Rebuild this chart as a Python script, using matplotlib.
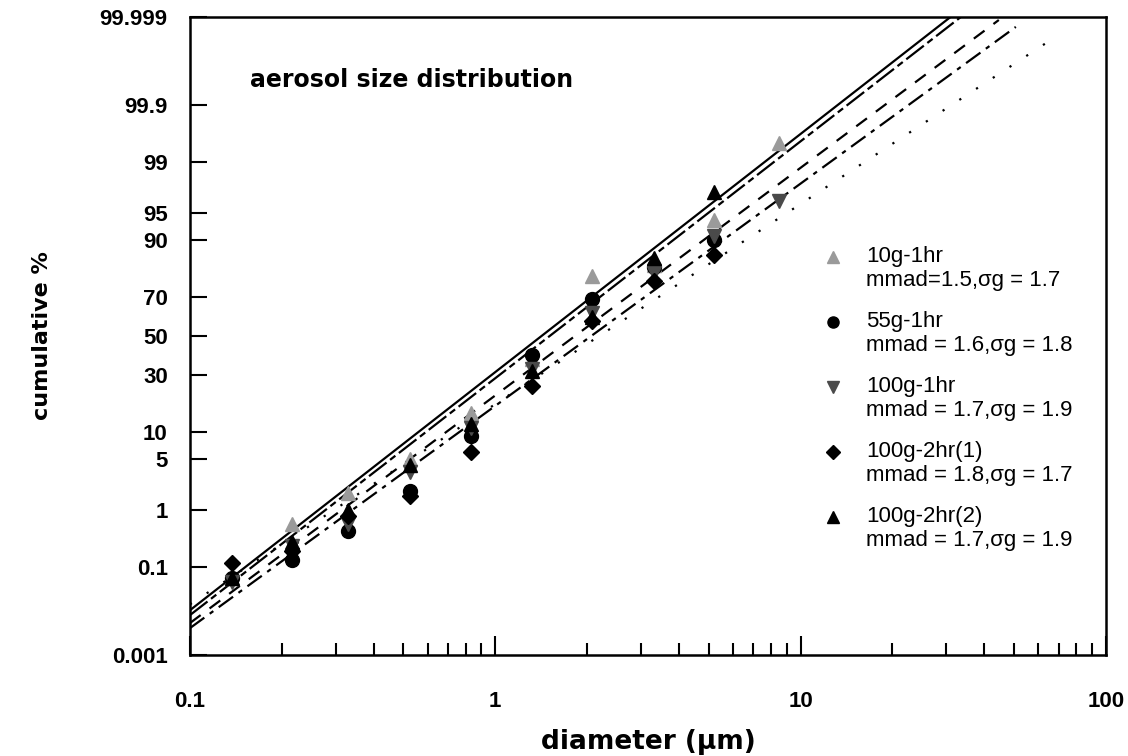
from statistics import NormalDist

import matplotlib
matplotlib.use("Agg")
import matplotlib.pyplot as plt
import numpy as np
from matplotlib.ticker import FixedLocator, NullFormatter

plt.rcParams['font.family'] = ['Liberation Sans', 'DejaVu Sans']

# stage cut diameters (um)
diam = [0.137, 0.216, 0.33, 0.526, 0.83, 1.32, 2.08, 3.32, 5.22, 8.47]

# cumulative % under size
cum_10g_1hr = [0.06, 0.6, 1.8, 5.0, 15, 38, 79, 83, 94, 99.5]
cum_55g_1hr = [0.06, 0.14, 0.45, 1.9, 9, 40, 69, 82, 90]
cum_100g_1hr = [0.05, 0.25, 0.6, 3.5, 11, 33, 62, 80, 91, 96.4]
cum_100g_2hr1 = [0.12, 0.2, 0.8, 1.6, 6, 25, 58, 77, 86]
cum_100g_2hr2 = [0.06, 0.3, 1.0, 4.2, 12, 32, 60, 85, 97.3]

names = ['10g-1hr', '55g-1hr', '100g-1hr', '100g-2hr(1)', '100g-2hr(2)']
params = ['mmad=1.5,\u03c3g = 1.7', 'mmad = 1.6,\u03c3g = 1.8',
          'mmad = 1.7,\u03c3g = 1.9', 'mmad = 1.8,\u03c3g = 1.7',
          'mmad = 1.7,\u03c3g = 1.9']

# fitted lines, end points (diameter, cumulative %)
fit_solid = ([0.1, 31.0], [0.0123, 99.999])
fit_dashdot = ([0.1, 33.5], [0.0095, 99.999])
fit_dash1 = ([0.1, 44.6], [0.0062, 99.9988])
fit_dash2 = ([0.1, 50.7], [0.0047, 99.9982])
fit_dot = ([0.1, 70.2], [0.0167, 99.9972])

yticks = [0.001, 0.1, 1, 5, 10, 30, 50, 70, 90, 95, 99, 99.9, 99.999]
ytick_labels = ['0.001', '0.1', '1', '5', '10', '30', '50', '70', '90', '95', '99', '99.9', '99.999']

nd = NormalDist()
_ppf = np.vectorize(lambda v: nd.inv_cdf(v / 100.0), otypes=[float])
_cdf = np.vectorize(lambda v: nd.cdf(v) * 100.0, otypes=[float])


def to_probit(p):
    p = np.clip(np.asarray(p, dtype=float), 1e-7, 100 - 1e-7)
    return _ppf(p)


def from_probit(z):
    return _cdf(np.asarray(z, dtype=float))


fig = plt.figure(figsize=(11.28, 7.56), dpi=100)
ax = fig.add_axes([0.1684, 0.1336, 0.812, 0.844])
ax.set_xscale('log')
ax.set_yscale('function', functions=(to_probit, from_probit))

lw = 1.6
ax.plot(*fit_solid, color='black', lw=lw, ls='-')
ax.plot(*fit_dashdot, color='black', lw=lw, ls=(0, (10, 2, 3, 2)))
ax.plot(*fit_dash1, color='black', lw=lw, ls=(0, (6, 5)))
ax.plot(*fit_dash2, color='black', lw=lw, ls=(0, (8, 3, 2, 3)))
ax.plot(*fit_dot, color='black', lw=lw, ls=(0, (1, 8)))

styles = [dict(marker='^', color='#9a9a9a'),
          dict(marker='o', color='black'),
          dict(marker='v', color='#4a4a4a'),
          dict(marker='D', color='black'),
          dict(marker='^', color='black')]
series = [cum_10g_1hr, cum_55g_1hr, cum_100g_1hr, cum_100g_2hr1, cum_100g_2hr2]

for vals, st in zip(series, styles):
    ms = 8.5 if st['marker'] == 'D' else 10
    ax.plot(diam[:len(vals)], vals, ls='none', ms=ms, **st)

ax.set_xlim(0.1, 100)
ax.set_ylim(0.001, 99.999)

ax.yaxis.set_major_locator(FixedLocator(yticks))
ax.set_yticklabels(ytick_labels)
ax.yaxis.set_minor_locator(FixedLocator([]))
ax.xaxis.set_major_locator(FixedLocator([0.1, 1, 10, 100]))
ax.set_xticklabels(['0.1', '1', '10', '100'])
minors = [m * 10.0 ** e for e in (-1, 0, 1) for m in range(2, 10)]
ax.xaxis.set_minor_locator(FixedLocator(minors))
ax.xaxis.set_minor_formatter(NullFormatter())

ax.tick_params(axis='y', which='major', direction='in', length=12, width=1.5,
               pad=16, labelsize=16)
ax.tick_params(axis='x', which='major', direction='in', length=14, width=1.5,
               pad=26, labelsize=16)
ax.tick_params(axis='x', which='minor', direction='in', length=9, width=1.5)
for lab in ax.get_xticklabels() + ax.get_yticklabels():
    lab.set_fontweight('bold')

for sp in ax.spines.values():
    sp.set_linewidth(1.8)

ax.set_xlabel('diameter (\u03bcm)', fontsize=19, fontweight='bold',
              family='DejaVu Sans', va='center')
ax.xaxis.set_label_coords(0.5, -0.136)
ax.set_ylabel('cumulative %', fontsize=16, fontweight='bold',
              family='DejaVu Sans', va='center')
ax.yaxis.set_label_coords(-0.162, 0.50)

ax.text(0.0655, 0.901, 'aerosol size distribution', transform=ax.transAxes,
        fontsize=17, fontweight='bold', family='DejaVu Sans', va='center')

# legend drawn by hand: marker beside first line of each two-line entry
for i, (name, par, st) in enumerate(zip(names, params, styles)):
    y0 = 0.624 - i * 0.1019
    ms = 7 if st['marker'] == 'D' else 8
    ax.plot([0.702], [y0], transform=ax.transAxes, ls='none', ms=ms,
            clip_on=False, **st)
    ax.text(0.738, y0, name, transform=ax.transAxes, fontsize=16, va='center')
    ax.text(0.738, y0 - 0.0376, par, transform=ax.transAxes, fontsize=16, va='center')

fig.savefig('out.png', dpi=100)
